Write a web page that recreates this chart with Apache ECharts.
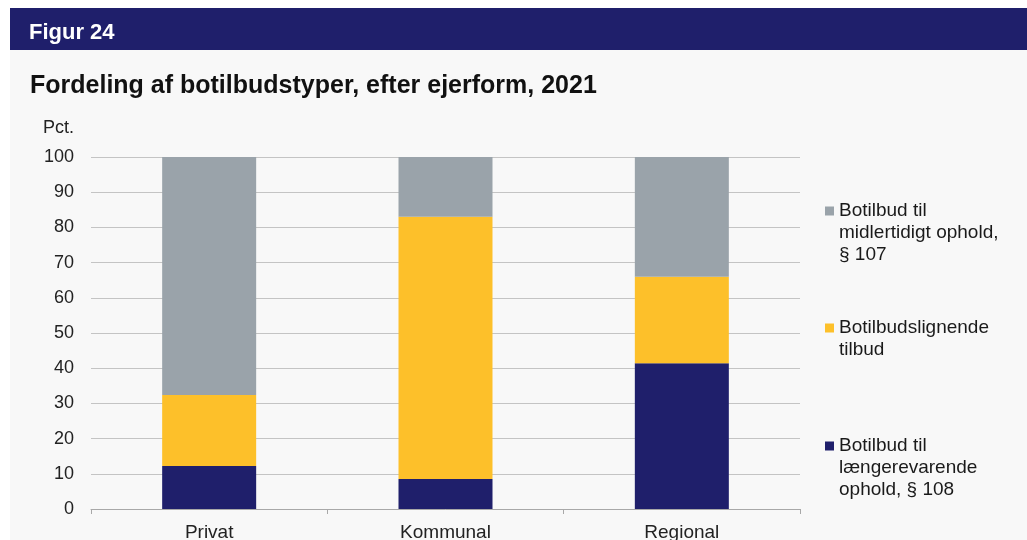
<!DOCTYPE html>
<html>
<head>
<meta charset="utf-8">
<script src="https://cdn.jsdelivr.net/npm/echarts@6/dist/echarts.min.js"></script>
<style>
  html, body { margin: 0; padding: 0; background: #fff; }
  #chart { width: 1027px; height: 540px; }
</style>
</head>
<body>
<div id="chart"></div>
<script>
// categories and stacked shares (pct.)
var categories = ['Privat', 'Kommunal', 'Regional'];
var laengerevarende = [12.2, 8.5, 41.4];
var botilbudslignende = [20.2, 74.5, 24.6];
var midlertidigt = [67.6, 17.0, 34.0];
var yTicks = [0, 10, 20, 30, 40, 50, 60, 70, 80, 90, 100];

var names = {
  mid: 'Botilbud til midlertidigt ophold, § 107',
  lign: 'Botilbudslignende tilbud',
  laeng: 'Botilbud til længerevarende ophold, § 108'
};
var legendText = {};
legendText[names.mid] = 'Botilbud til\nmidlertidigt ophold,\n§ 107';
legendText[names.lign] = 'Botilbudslignende\ntilbud';
legendText[names.laeng] = 'Botilbud til\nlængerevarende\nophold, § 108';

var font = '"Liberation Sans", Arial, sans-serif';
var lh = 22;

// legend square sits on the first text line: tall invisible box, square at its top
function legendFor(name, top, lines) {
  var h = lines * lh;
  var s0 = (lh - 9) / 2, s1 = s0 + 9;
  return {
    data: [name],
    left: 825,
    top: top,
    itemWidth: 9,
    itemHeight: h,
    itemGap: 0,
    padding: 0,
    icon: 'path://M0,0L9,0L9,0Z M0,' + s0 + 'L9,' + s0 + 'L9,' + s1 + 'L0,' + s1 + 'Z M0,' + h + 'L9,' + h + 'L9,' + h + 'Z',
    selectedMode: false,
    formatter: function (n) { return legendText[n]; },
    textStyle: {
      fontFamily: font,
      fontSize: 19,
      color: '#1a1a1a',
      lineHeight: lh
    }
  };
}

var chart = echarts.init(document.getElementById('chart'));
chart.setOption({
  backgroundColor: '#fff',
  animation: false,
  textStyle: { fontFamily: font },
  graphic: [
    { type: 'rect', shape: { x: 10, y: 50, width: 1017, height: 490 }, style: { fill: '#f8f8f8' }, z: -10 },
    { type: 'rect', shape: { x: 10, y: 8, width: 1017, height: 42 }, style: { fill: '#1f1f6b' }, z: -5 },
    { type: 'text', left: 29, top: 22, style: { text: 'Figur 24', fill: '#fff', font: 'bold 22px ' + font } },
    { type: 'text', left: 30, top: 74, style: { text: 'Fordeling af botilbudstyper, efter ejerform, 2021', fill: '#111', font: 'bold 25px ' + font } },
    { type: 'text', right: 1027 - 74, top: 119, style: { text: 'Pct.', fill: '#222', font: '18px ' + font } }
  ],
  grid: { left: 91, right: 227, top: 157, bottom: 31, containLabel: false, outerBoundsMode: 'none' },
  legend: [
    legendFor(names.mid, 200, 3),
    legendFor(names.lign, 317, 2),
    legendFor(names.laeng, 435, 3)
  ],
  xAxis: {
    type: 'category',
    data: categories,
    axisLine: { lineStyle: { color: '#a8a8a8', width: 1 } },
    axisTick: { show: true, alignWithLabel: false, length: 5, lineStyle: { color: '#a8a8a8' } },
    axisLabel: { fontSize: 19, color: '#222', margin: 14 }
  },
  yAxis: {
    type: 'value',
    min: yTicks[0],
    max: yTicks[yTicks.length - 1],
    interval: 10,
    axisLine: { show: false },
    axisTick: { show: false },
    axisLabel: { fontSize: 18, color: '#222', margin: 17 },
    splitLine: { lineStyle: { color: '#c4c4c4', width: 1 } }
  },
  series: [
    { name: names.laeng, type: 'bar', stack: 'a', data: laengerevarende, barWidth: 94, itemStyle: { color: '#1f1f6b' } },
    { name: names.lign, type: 'bar', stack: 'a', data: botilbudslignende, itemStyle: { color: '#fdc02a' } },
    { name: names.mid, type: 'bar', stack: 'a', data: midlertidigt, itemStyle: { color: '#9aa3aa' } }
  ]
});
</script>
</body>
</html>
